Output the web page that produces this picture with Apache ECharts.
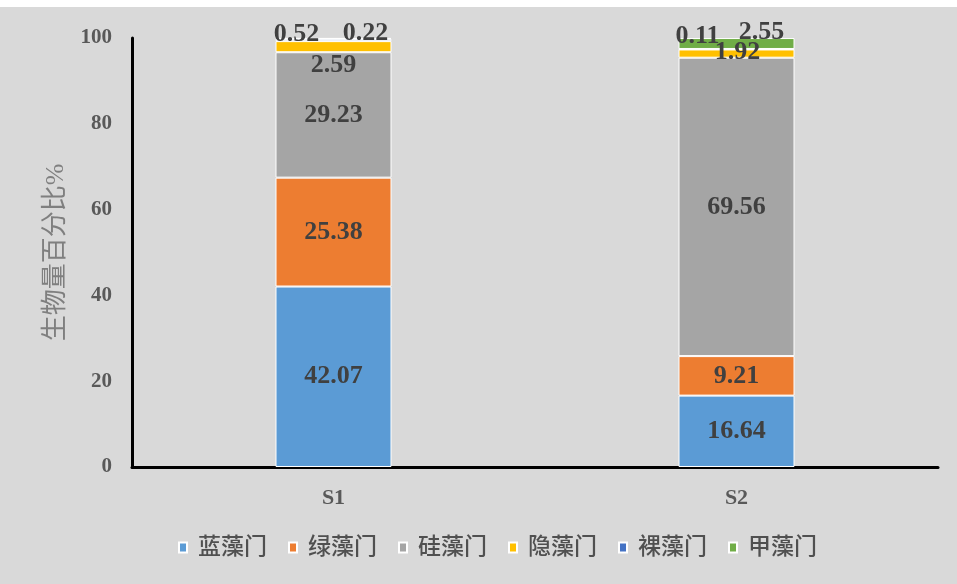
<!DOCTYPE html>
<html>
<head>
<meta charset="utf-8">
<script src="https://cdn.jsdelivr.net/npm/echarts@6/dist/echarts.min.js"></script>
<style>
html,body{margin:0;padding:0;background:#ffffff;}
#main{width:957px;height:584px;}
</style>
</head>
<body>
<div id="main"></div>
<script>
const categories = ['S1', 'S2'];
const seriesNames = ['蓝藻门', '绿藻门', '硅藻门', '隐藻门', '裸藻门', '甲藻门'];
const cyanophyta = [42.07, 16.64];
const chlorophyta = [25.38, 9.21];
const bacillariophyta = [29.23, 69.56];
const cryptophyta = [2.59, 1.92];
const euglenophyta = [0.52, 0.11];
const pyrrophyta = [0.22, 2.55];
const yTicks = [0, 20, 40, 60, 80, 100];

const colors = ['#5b9bd5', '#ed7d31', '#a5a5a5', '#ffc000', '#4472c4', '#70ad47'];
const allValues = [cyanophyta, chlorophyta, bacillariophyta, cryptophyta, euglenophyta, pyrrophyta];
// label offsets (style) for small segments, per series per category
const labelOffsets = [
  [[0, 0], [0, 0]],
  [[0, 0], [0, 0]],
  [[0, 0], [0, 0]],
  [[0, 19], [1, -1]],
  [[-37, -6], [-39, -13]],
  [[32, -5], [25, -11]]
];

const serif = '"Liberation Serif", "Times New Roman", "Noto Sans CJK SC", serif';

const series = seriesNames.map((name, i) => ({
  name: name,
  type: 'bar',
  stack: 'total',
  barWidth: 116,
  itemStyle: { color: colors[i], borderColor: '#ffffff', borderWidth: 1 },
  label: {
    show: true,
    position: 'inside',
    color: '#404040',
    fontFamily: serif,
    fontWeight: 'bold',
    fontSize: 26,
    formatter: p => p.value.toFixed(2)
  },
  data: allValues[i].map((v, j) => ({
    value: v,
    label: { offset: labelOffsets[i][j] }
  }))
}));

const chart = echarts.init(document.getElementById('main'));
chart.setOption({
  backgroundColor: '#d9d9d9',
  animation: false,
  color: colors,
  graphic: [{
    type: 'rect', left: 0, top: 0, shape: { width: 957, height: 7 },
    style: { fill: '#ffffff' }, z: 100
  }],
  grid: { left: 132, right: 19, top: 38, bottom: 117, containLabel: false },
  legend: {
    data: seriesNames,
    bottom: 20,
    left: 173,
    itemWidth: 8,
    itemHeight: 10,
    itemGap: 21,
    icon: 'rect',
    textStyle: {
      fontFamily: serif,
      fontSize: 23,
      fontWeight: 500,
      color: '#505050',
      padding: [0, 0, 0, 6]
    }
  },
  xAxis: {
    type: 'category',
    data: categories,
    axisLine: { show: true, lineStyle: { color: '#000000', width: 3 } },
    axisTick: { show: false },
    axisLabel: {
      fontFamily: serif, fontWeight: 'bold', fontSize: 22, color: '#595959', margin: 20
    }
  },
  yAxis: {
    type: 'value',
    min: yTicks[0],
    max: yTicks[yTicks.length - 1],
    interval: yTicks[1] - yTicks[0],
    name: '生物量百分比%',
    nameLocation: 'middle',
    nameGap: 63,
    nameTextStyle: { fontFamily: serif, fontSize: 26, color: '#7f7f7f' },
    axisLine: { show: true, lineStyle: { color: '#000000', width: 3 } },
    axisTick: { show: false },
    splitLine: { show: false },
    axisLabel: {
      fontFamily: serif, fontWeight: 'bold', fontSize: 21, color: '#595959', margin: 20
    }
  },
  series: series
});
</script>
</body>
</html>
